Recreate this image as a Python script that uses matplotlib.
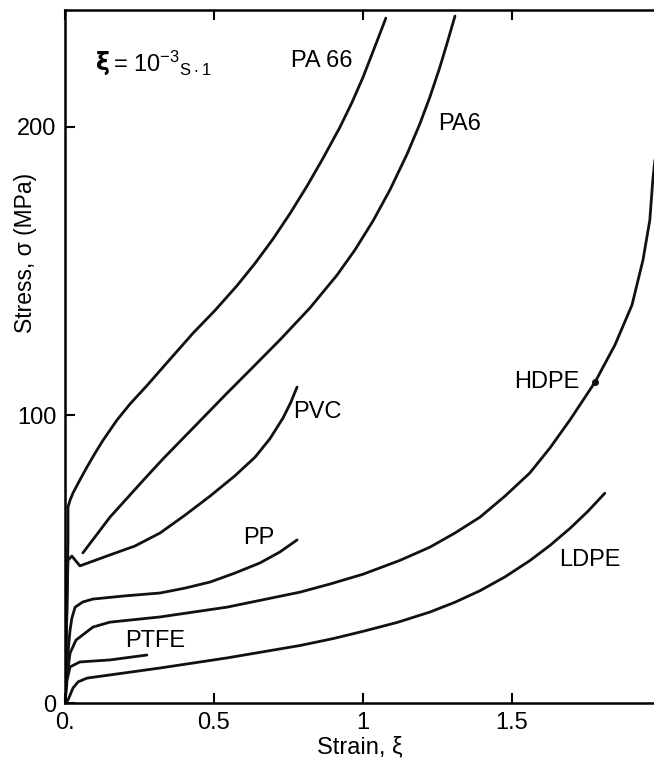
import matplotlib.pyplot as plt
import numpy as np

plt.rcParams['font.family'] = ['Liberation Sans', 'DejaVu Sans']
plt.rcParams['mathtext.default'] = 'regular'

# stress-strain curves, strain (-) vs stress (MPa)
pa66_x = [0.0, 0.007, 0.01, 0.01, 0.017, 0.027, 0.05, 0.074, 0.101, 0.128, 0.174, 0.218, 0.275, 0.336,
          0.43, 0.503, 0.577, 0.638, 0.698, 0.755, 0.812, 0.866, 0.923, 0.963, 1.0, 1.047, 1.077]
pa66_y = [0.0, 36.0, 56.7, 68.1, 70.5, 73.0, 77.5, 82.0, 86.8, 91.3, 98.2, 103.8, 110.2, 117.4,
          128.4, 136.2, 144.8, 152.6, 161.0, 169.8, 179.3, 189.0, 199.8, 208.3, 217.0, 229.5, 237.6]

pa6_x = [0.06, 0.151, 0.262, 0.329, 0.43, 0.544, 0.63, 0.721, 0.822, 0.913, 0.973, 1.034, 1.091,
         1.148, 1.191, 1.225, 1.258, 1.282, 1.309]
pa6_y = [52.2, 64.6, 77.3, 84.8, 95.5, 107.6, 116.5, 126.0, 137.1, 148.5, 157.2, 167.3, 178.1,
         190.4, 200.9, 210.3, 220.5, 228.7, 238.3]

pvc_x = [0.0, 0.007, 0.01, 0.023, 0.05, 0.151, 0.235, 0.319, 0.403, 0.487, 0.57, 0.638, 0.688,
         0.732, 0.757, 0.779]
pvc_y = [0.0, 36.0, 49.7, 51.1, 47.7, 51.5, 54.6, 59.1, 65.3, 71.9, 78.9, 85.4, 91.8, 99.0,
         104.2, 109.7]

pp_x = [0.0, 0.005, 0.017, 0.023, 0.034, 0.06, 0.094, 0.201, 0.319, 0.403, 0.487, 0.57, 0.654,
        0.721, 0.779]
pp_y = [0.0, 12.0, 25.5, 29.6, 33.4, 35.2, 36.2, 37.3, 38.3, 40.0, 42.1, 45.2, 48.7, 52.5, 56.7]

hdpe_x = [0.0, 0.005, 0.017, 0.037, 0.094, 0.151, 0.319, 0.544, 0.789, 0.889, 1.0, 1.124, 1.225,
          1.309, 1.393, 1.477, 1.56, 1.628, 1.695, 1.779, 1.846, 1.903, 1.94, 1.963, 1.973, 1.98]
hdpe_y = [0.0, 8.0, 17.5, 22.0, 26.5, 28.2, 30.0, 33.4, 38.6, 41.4, 44.8, 49.6, 54.2,
          59.1, 64.6, 71.9, 79.9, 88.6, 98.3, 111.4, 124.3, 138.1, 153.7, 167.6, 181.5, 188.4]
hdpe_dot = (1.779, 111.4)

ptfe_x = [0.0, 0.007, 0.017, 0.05, 0.151, 0.275]
ptfe_y = [0.0, 8.1, 12.7, 14.4, 15.1, 16.8]

ldpe_x = [0.0, 0.01, 0.027, 0.044, 0.074, 0.151, 0.319, 0.544, 0.789, 0.9, 1.0, 1.115, 1.225,
          1.309, 1.393, 1.477, 1.56, 1.628, 1.695, 1.755, 1.812]
ldpe_y = [0.0, 1.2, 5.4, 7.5, 8.8, 9.9, 12.3, 15.8, 20.1, 22.5, 25.0, 28.1, 31.7,
          35.1, 39.1, 43.9, 49.5, 54.8, 60.7, 66.6, 72.9]

curves = [
    (pa66_x, pa66_y, 'PA 66', (0.862, 222.7)),
    (pa6_x, pa6_y, 'PA6', (1.326, 200.9)),
    (pvc_x, pvc_y, 'PVC', (0.846, 101.0)),
    (pp_x, pp_y, 'PP', (0.651, 57.4)),
    (hdpe_x, hdpe_y, 'HDPE', (1.617, 111.4)),
    (ptfe_x, ptfe_y, 'PTFE', (0.302, 21.7)),
    (ldpe_x, ldpe_y, 'LDPE', (1.762, 49.7)),
]

xticks = [0, 0.5, 1, 1.5]
xticklabels = ['0.', '0.5', '1', '1.5']
yticks = [0, 100, 200]

fig = plt.figure(figsize=(6.54, 7.68), dpi=100)
ax = fig.add_axes([0.0994, 0.084, 0.9006, 0.903])

for x, y, name, pos in curves:
    ax.plot(x, y, color='#111111', lw=2.0, solid_capstyle='round', solid_joinstyle='round')
    ax.text(pos[0], pos[1], name, fontsize=17, ha='center', va='center')

ax.plot(*hdpe_dot, 'o', color='#111111', ms=4)

# strain rate note
ax.text(0.105, 222, 'ξ', fontsize=17, fontweight='bold', ha='left', va='center',
        family=['DejaVu Sans'])
ax.text(0.16, 222, r'= 10$^{-3}$$_{S\cdot1}$', fontsize=17, ha='left', va='center')

ax.set_xlim(0, 1.977)
ax.set_ylim(0, 240.4)
ax.set_xticks(xticks)
ax.set_xticklabels(xticklabels)
ax.set_yticks(yticks)
ax.tick_params(direction='in', length=7, width=1.5, labelsize=17, top=True, pad=6)
ax.tick_params(axis='x', labeltop=False)
for s in ['left', 'bottom', 'top']:
    ax.spines[s].set_linewidth(1.8)
ax.spines['right'].set_visible(False)

ax.set_xlabel('Strain, ξ', fontsize=17, labelpad=2)
fig.text(26 / 654, 1 - 253 / 768, 'Stress, σ (MPa)', fontsize=16.5,
         rotation=90, ha='center', va='center')

fig.savefig('out.png', dpi=100)
